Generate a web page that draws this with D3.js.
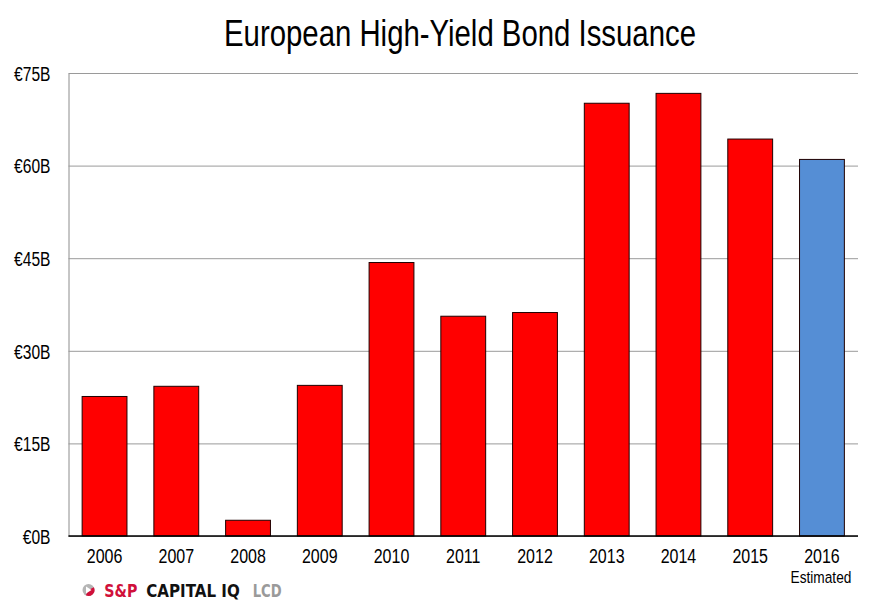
<!DOCTYPE html>
<html><head><meta charset="utf-8">
<script src="https://cdn.jsdelivr.net/npm/d3@7"></script>
<style>body{margin:0;background:#fff}svg{display:block}</style>
</head><body>
<svg id="c" width="879" height="608"></svg>
<script>
const years = ["2006","2007","2008","2009","2010","2011","2012","2013","2014","2015","2016"];
const issuance = [22.6, 24.25, 2.55, 24.4, 44.3, 35.6, 36.2, 70.1, 71.7, 64.3, 61.0];
const estimated = [false,false,false,false,false,false,false,false,false,false,true];
const yTicks = [0, 15, 30, 45, 60, 75];
const title = "European High-Yield Bond Issuance";
const logoParts = ["S&P", "CAPITAL IQ", "LCD"];

const svg = d3.select("#c");
const m = {l: 68.5, r: 858, t: 73, b: 536};
const x = d3.scaleBand().domain(years).range([m.l, m.r]).paddingInner(0.375).paddingOuter(0.19);
const y = d3.scaleLinear().domain([0, 75]).range([m.b, m.t]);
const font = "'Liberation Sans',Arial,sans-serif";
const sx = 0.8;

svg.append("text").attr("x", 460).attr("y", 46).attr("text-anchor", "middle")
  .attr("font-family", font).attr("font-size", 36)
  .attr("textLength", 472).attr("lengthAdjust", "spacingAndGlyphs").text(title);

// gridlines + y axis
const ya = d3.axisLeft(y).tickValues(yTicks).tickSize(-(m.r - m.l)).tickFormat(d => "€" + d + "B").tickPadding(0);
const g = svg.append("g").attr("transform", `translate(${m.l},0)`).call(ya);
g.select(".domain").attr("stroke", "#8c8c8c");
g.selectAll(".tick line").attr("stroke", "#9a9a9a").attr("stroke-width", 1);
g.selectAll(".tick text").attr("font-family", font).attr("font-size", 19.5).attr("fill", "#000")
  .attr("x", null).attr("transform", `translate(-18,1) scale(${sx},1)`);

// bars
svg.append("g").selectAll("rect").data(years).join("rect")
  .attr("x", d => x(d)).attr("width", x.bandwidth())
  .attr("y", (d, i) => y(issuance[i])).attr("height", (d, i) => y(0) - y(issuance[i]))
  .attr("fill", (d, i) => estimated[i] ? "#558ed5" : "#ff0000")
  .attr("stroke", "#200000").attr("stroke-width", 1);

// x axis
const xa = d3.axisBottom(x).tickSize(0).tickPadding(0);
const gx = svg.append("g").attr("transform", `translate(0,${m.b})`).call(xa);
gx.select(".domain").attr("stroke", "#000").attr("stroke-width", 1.5).attr("d", `M${m.l},0H${m.r}`);
gx.selectAll(".tick text").attr("font-family", font).attr("font-size", 20).attr("fill", "#000")
  .attr("y", null).attr("dy", null).attr("transform", `translate(0,27) scale(${sx},1)`);
gx.selectAll(".tick").filter((d, i) => estimated[i]).append("text")
  .attr("text-anchor", "middle").attr("font-family", font).attr("font-size", 16.5).attr("fill", "#000")
  .attr("transform", `translate(-1,47) scale(0.83,1)`).text("Estimated");

// logo
const lg = svg.append("g").attr("transform", "translate(88.5,590)");
lg.append("circle").attr("r", 6).attr("fill", "#b5b5b5");
lg.append("path").attr("d", d3.arc().innerRadius(0).outerRadius(6).startAngle(Math.PI * 0.35).endAngle(Math.PI * 1.15)()).attr("fill", "#d0103a");
lg.append("path").attr("d", "M-2.5,-3.5 L3,0 L-2.5,3.5 Z").attr("fill", "#fff");
const logoX = [15.8, 57.8, 164.2];
const logoW = [33, 93.5, 29];
const logoC = ["#d0103a", "#111", "#9a9a9a"];
lg.selectAll("text.logo").data(logoParts).join("text").attr("class", "logo")
  .attr("x", (d, i) => logoX[i]).attr("y", 6.5)
  .attr("font-family", "'DejaVu Sans',sans-serif").attr("font-weight", "bold").attr("font-size", 17.5)
  .attr("textLength", (d, i) => logoW[i]).attr("lengthAdjust", "spacingAndGlyphs")
  .attr("fill", (d, i) => logoC[i]).text(d => d);
</script>
</body></html>
